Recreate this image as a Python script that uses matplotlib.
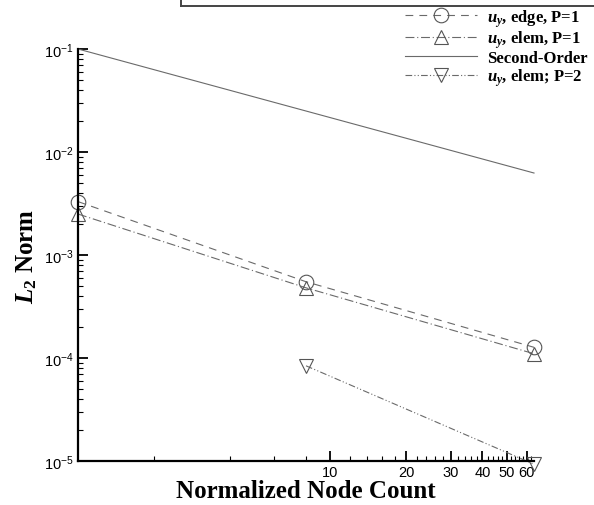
import matplotlib
matplotlib.use('Agg')
import matplotlib.pyplot as plt
from matplotlib.ticker import FixedLocator, FixedFormatter, NullFormatter
from matplotlib.lines import Line2D
from matplotlib.font_manager import FontProperties

# ---------------- data ----------------
node_count = [1, 8, 64]
edge_p1 = [3.3e-3, 5.5e-4, 1.27e-4]
elem_p1 = [2.5e-3, 4.8e-4, 1.1e-4]
so_x = [1, 64]
second_order = [1e-1, 6.25e-3]
p2_x = [8, 64]
elem_p2 = [8.4e-5, 9.3e-6]

x_major = [10, 20, 30, 40, 50, 60]
x_major_labels = ['10', '20', '30', '40', '50', '60']
x_minor = [2, 4, 6, 8, 12, 14, 16, 18, 22, 24, 26, 28, 32, 34, 36, 38,
           42, 44, 46, 48, 52, 54, 56, 58, 62]
y_major = [1e-5, 1e-4, 1e-3, 1e-2, 1e-1]
y_major_labels = [r'$\mathsf{10^{-5}}$', r'$\mathsf{10^{-4}}$', r'$\mathsf{10^{-3}}$',
                  r'$\mathsf{10^{-2}}$', r'$\mathsf{10^{-1}}$']
y_minor = [m * 10.0 ** e for e in range(-5, -1) for m in range(2, 10)]

labels = [r'$u_y$, edge, P=1', r'$u_y$, elem, P=1', 'Second-Order', r'$u_y$, elem; P=2']

# ---------------- style ----------------
plt.rcParams['font.family'] = ['Liberation Sans', 'DejaVu Sans']
plt.rcParams['mathtext.fontset'] = 'custom'
plt.rcParams['mathtext.rm'] = 'Liberation Serif:bold'
plt.rcParams['mathtext.it'] = 'Liberation Serif:italic:bold'
plt.rcParams['mathtext.bf'] = 'Liberation Serif:bold'
plt.rcParams['mathtext.sf'] = 'Liberation Sans'

gray = '#6a6a6a'
mk_edge = '#555555'

fig = plt.figure(figsize=(5.94, 5.06), dpi=100)
ax = fig.add_axes([78 / 594, 44 / 506, 456 / 594, 412 / 506])
ax.set_xscale('log')
ax.set_yscale('log')
ax.set_xlim(1, 64)
ax.set_ylim(1e-5, 1e-1)

common = dict(color=gray, lw=0.8, mfc='none', mec=mk_edge, mew=0.8, clip_on=False)
ax.plot(node_count, edge_p1, marker='o', ms=10.5, dashes=(7, 5.5), label=labels[0], **common)
ax.plot(node_count, elem_p1, marker='^', ms=10, dashes=(8, 2.5, 1, 2.5), label=labels[1], **common)
ax.plot(so_x, second_order, ls='-', label=labels[2], **common)
ax.plot(p2_x, elem_p2, marker='v', ms=10, dashes=(6, 2, 1, 2, 1, 2), label=labels[3], **common)

for s in ['top', 'right']:
    ax.spines[s].set_visible(False)
for s in ['left', 'bottom']:
    ax.spines[s].set_linewidth(1.6)

ax.xaxis.set_major_locator(FixedLocator(x_major))
ax.xaxis.set_major_formatter(FixedFormatter(x_major_labels))
ax.xaxis.set_minor_locator(FixedLocator(x_minor))
ax.xaxis.set_minor_formatter(NullFormatter())
ax.yaxis.set_major_locator(FixedLocator(y_major))
ax.yaxis.set_major_formatter(FixedFormatter(y_major_labels))
ax.yaxis.set_minor_locator(FixedLocator(y_minor))
ax.yaxis.set_minor_formatter(NullFormatter())

ax.tick_params(which='major', direction='in', length=7, width=1.3, labelsize=10.5,
               top=False, right=False, colors='black')
ax.tick_params(axis='y', which='major', pad=3)
ax.tick_params(axis='x', which='major', pad=3)
ax.tick_params(which='minor', direction='in', length=3.5, width=0.8, top=False, right=False)

ax.set_xlabel('Normalized Node Count', fontfamily='Liberation Serif', fontweight='bold',
              fontsize=18, labelpad=0)
ax.set_ylabel(r'$L_2$ Norm', fontfamily='Liberation Serif', fontweight='bold', fontsize=18)
ax.yaxis.set_label_coords(-0.085, 0.5)

leg = ax.legend(loc='upper left', bbox_to_anchor=(405 / 594, 1 - 8 / 506),
                bbox_transform=fig.transFigure, frameon=False, numpoints=1,
                handlelength=4.3, handletextpad=0.6, labelspacing=0.0,
                borderpad=0, borderaxespad=0,
                prop=FontProperties(family='Liberation Serif', weight='bold', size=12))

# cropped frame at top
fig.add_artist(Line2D([181 / 594, 181 / 594], [1.0, 1 - 7 / 506], transform=fig.transFigure,
                      color='#444444', lw=1.4))
fig.add_artist(Line2D([181 / 594, 1.0], [1 - 7 / 506, 1 - 7 / 506], transform=fig.transFigure,
                      color='#444444', lw=1.4))

fig.savefig('out.png', dpi=100)
